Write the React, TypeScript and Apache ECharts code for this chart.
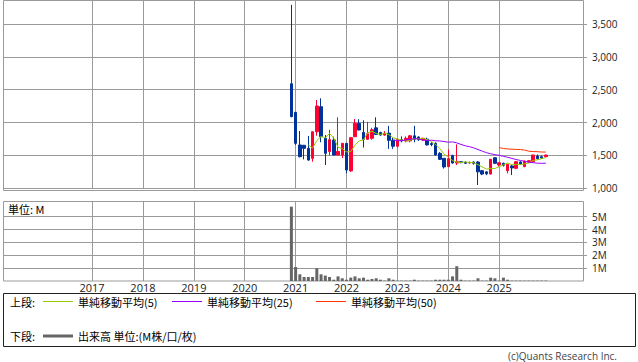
import React, { useEffect, useRef } from "react";
import * as echarts from "echarts";

// ---- axis categories (monthly) ----
const START_YEAR = 2015;
const START_MONTH = 4;
const MONTH_COUNT = 138;
const DATA_START = "2020-12";
const yearLabels = ["2017", "2018", "2019", "2020", "2021", "2022", "2023", "2024", "2025"];

// ---- monthly candles Dec 2020 .. Dec 2025 : [open, close, low, high] ----
const ohlc: number[][] = [
  [2590, 2090, 2080, 3790],
  [2156, 1684, 1660, 2160],
  [1659, 1481, 1470, 1872],
  [1654, 1608, 1440, 1660],
  [1608, 1430, 1420, 1795],
  [1456, 1861, 1405, 1861],
  [1861, 2252, 1800, 2343],
  [2241, 1785, 1700, 2369],
  [1760, 1532, 1354, 1811],
  [1560, 1740, 1500, 1890],
  [1735, 1506, 1500, 1785],
  [1506, 1560, 1500, 2080],
  [1506, 1684, 1460, 1690],
  [1684, 1278, 1228, 1684],
  [1265, 1770, 1250, 1775],
  [1785, 1989, 1780, 2054],
  [1989, 1887, 1880, 2050],
  [1850, 1745, 1620, 2035],
  [1745, 1830, 1740, 2010],
  [1760, 1890, 1740, 1920],
  [1920, 1820, 1810, 2080],
  [1850, 1810, 1800, 1860],
  [1810, 1840, 1800, 1870],
  [1840, 1730, 1600, 1950],
  [1730, 1640, 1600, 1770],
  [1640, 1740, 1620, 1760],
  [1740, 1720, 1700, 1790],
  [1720, 1760, 1700, 1790],
  [1721, 1798, 1700, 1810],
  [1798, 1746, 1700, 1951],
  [1780, 1740, 1720, 1790],
  [1735, 1760, 1720, 1770],
  [1747, 1660, 1650, 1770],
  [1680, 1665, 1640, 1700],
  [1684, 1507, 1500, 1700],
  [1532, 1440, 1430, 1550],
  [1456, 1325, 1300, 1460],
  [1330, 1450, 1320, 1590],
  [1500, 1385, 1375, 1510],
  [1385, 1405, 1354, 1669],
  [1405, 1390, 1380, 1415],
  [1395, 1380, 1370, 1410],
  [1385, 1395, 1375, 1405],
  [1400, 1380, 1360, 1410],
  [1400, 1250, 1050, 1415],
  [1268, 1217, 1200, 1280],
  [1250, 1220, 1200, 1260],
  [1217, 1441, 1210, 1445],
  [1465, 1380, 1370, 1470],
  [1354, 1389, 1330, 1395],
  [1380, 1350, 1330, 1390],
  [1268, 1365, 1228, 1370],
  [1340, 1310, 1202, 1354],
  [1304, 1405, 1290, 1410],
  [1400, 1370, 1360, 1410],
  [1330, 1415, 1320, 1420],
  [1400, 1420, 1395, 1430],
  [1405, 1506, 1400, 1510],
  [1491, 1450, 1440, 1515],
  [1480, 1460, 1455, 1500],
  [1481, 1506, 1475, 1510],
];

// ---- monthly volume (millions) Dec 2020 .. Dec 2025 ----
const volumeM: number[] = [
  5.78, 1.09, 0.52, 0.31, 0.31, 0.31, 0.99, 0.52, 0.42, 0.31, 0.1, 0.36, 0.21,
  0.1, 0.26, 0.36, 0.21, 0.26, 0.1, 0.16, 0.21, 0.1, 0.03, 0.21, 0.1,
  0.03, 0.03, 0.03, 0.03, 0.1, 0.03, 0.03, 0.03, 0.03, 0.1, 0.1, 0.1,
  0.1, 0.36, 1.15, 0.1, 0.03, 0.03, 0.03, 0.21, 0.03, 0.03, 0.26, 0.21,
  0.03, 0.26, 0.1, 0.03, 0.03, 0.03, 0.03, 0.03, 0.03, 0.03, 0.03, 0.03,
];

const priceTicks = [1000, 1500, 2000, 2500, 3000, 3500];
const volumeTicks = [1, 2, 3, 4, 5];
const maPeriods = [5, 25, 50];
const maNames = ["単純移動平均(5)", "単純移動平均(25)", "単純移動平均(50)"];
const maColors = ["#99cc00", "#9900ff", "#ff3300"];

const GRID = "#9a9a9a";

function buildMonths(): string[] {
  const out: string[] = [];
  for (let i = 0; i < MONTH_COUNT; i++) {
    const t = START_MONTH - 1 + i;
    const y = START_YEAR + Math.floor(t / 12);
    const m = (t % 12) + 1;
    out.push(`${y}-${m < 10 ? "0" + m : m}`);
  }
  return out;
}

function sma(values: number[], n: number): (number | null)[] {
  return values.map((_, i) => {
    if (i < n - 1) return null;
    let s = 0;
    for (let k = i - n + 1; k <= i; k++) s += values[k];
    return s / n;
  });
}

export default function App() {
  const ref = useRef<HTMLDivElement>(null);

  useEffect(() => {
    if (!ref.current) return;
    const chart = echarts.init(ref.current, undefined, { renderer: "svg" });

    const months = buildMonths();
    const first = months.indexOf(DATA_START);
    const dataMonths = ohlc.map((_, i) => months[first + i]);
    const closes = ohlc.map((d) => d[1]);
    const isYearStart = (_i: number, v: string) => {
      const s = String(v);
      return s.endsWith("-01") && yearLabels.indexOf(s.slice(0, 4)) >= 0;
    };

    const xBase = (gridIndex: number) => ({
      type: "category",
      gridIndex,
      data: months,
      boundaryGap: false,
      axisLine: { show: false },
      axisTick: { show: false },
      splitLine: { show: true, interval: isYearStart, lineStyle: { color: GRID, width: 1 } },
      axisLabel:
        gridIndex === 1
          ? {
              show: true,
              interval: isYearStart,
              formatter: (v: string) => v.slice(0, 4),
              fontSize: 11,
              lineHeight: 11,
              color: "#222",
              margin: 1,
              fontFamily: "'Open Sans', sans-serif",
            }
          : { show: false },
    });

    const maSeries = maPeriods.map((p, idx) => {
      const vals = sma(closes, p);
      const data: any[] = [];
      vals.forEach((v, i) => {
        if (v != null) data.push([dataMonths[i], Math.round(v * 10) / 10]);
      });
      return {
        name: maNames[idx],
        type: "line",
        xAxisIndex: 0,
        yAxisIndex: 0,
        data,
        symbol: "none",
        lineStyle: { color: maColors[idx], width: 1 },
        itemStyle: { color: maColors[idx] },
        z: 3,
      };
    });

    const legendY1 = 302;
    const legendY2 = 336;
    const cjk = "11px 'Noto Sans CJK JP', sans-serif";
    const legendLineX = [43, 172, 316];
    const legendTextX = [78, 207, 351];
    const txt = (text: string, x: number, y: number) => ({
      type: "text",
      x,
      y,
      style: { text, font: cjk, fill: "#000", verticalAlign: "middle", lineHeight: 11 },
    });

    const graphic: any[] = [
      { type: "rect", shape: { x: 3.5, y: 0.5, width: 580, height: 190 }, style: { fill: "none", stroke: GRID, lineWidth: 1 }, silent: true },
      { type: "rect", shape: { x: 3.5, y: 201.5, width: 580, height: 79.5 }, style: { fill: "none", stroke: GRID, lineWidth: 1 }, silent: true },
      txt("単位: M", 8, 209),
      { type: "rect", shape: { x: 3.5, y: 293.5, width: 632, height: 53 }, style: { fill: "none", stroke: "#222", lineWidth: 1 }, silent: true },
      txt("上段:", 10, legendY1),
      txt("下段:", 10, legendY2),
      { type: "line", shape: { x1: 43, y1: legendY2, x2: 73, y2: legendY2 }, style: { stroke: "#666", lineWidth: 3 } },
      txt("出来高 単位:(M株/口/枚)", 78, legendY2),
      { type: "text", x: 617, y: 356, style: { text: "(c)Quants Research Inc.", font: "10px 'Open Sans', sans-serif", fill: "#444", align: "right", verticalAlign: "middle" } },
    ];
    maNames.forEach((n, i) => {
      graphic.push({ type: "line", shape: { x1: legendLineX[i], y1: legendY1 - 0.5, x2: legendLineX[i] + 30, y2: legendY1 - 0.5 }, style: { stroke: maColors[i], lineWidth: 1 } });
      graphic.push(txt(n, legendTextX[i], legendY1));
    });

    const option: any = {
      animation: false,
      backgroundColor: "#ffffff",
      textStyle: { fontFamily: "'Open Sans', 'Noto Sans CJK JP', sans-serif" },
      grid: [
        { left: 3, right: 54, top: -8.92, height: 197.22, outerBoundsMode: "none", containLabel: false },
        { left: 3, right: 54, top: 201, height: 80, outerBoundsMode: "none", containLabel: false },
      ],
      xAxis: [xBase(0), xBase(1)],
      yAxis: [
        {
          type: "value",
          gridIndex: 0,
          position: "right",
          min: 1000,
          max: 4000,
          interval: 500,
          axisLine: { show: false },
          axisTick: { show: true, length: 3, lineStyle: { color: GRID } },
          axisLabel: {
            showMaxLabel: false,
            formatter: (v: number) => (priceTicks.indexOf(v) >= 0 ? v.toLocaleString("en-US") : ""),
            fontSize: 10,
            color: "#222",
            margin: 8,
          },
          splitLine: { lineStyle: { color: GRID } },
        },
        {
          type: "value",
          gridIndex: 1,
          position: "right",
          min: 0,
          max: 6.22,
          interval: 1,
          axisLine: { show: false },
          axisTick: { show: true, length: 3, lineStyle: { color: GRID }, customValues: volumeTicks },
          axisLabel: {
            customValues: volumeTicks,
            formatter: (v: number) => (volumeTicks.indexOf(v) >= 0 ? v + "M" : ""),
            fontSize: 10,
            color: "#222",
            margin: 8,
          },
          splitLine: {
            lineStyle: {
              color: [GRID, GRID, GRID, GRID, GRID, GRID, "rgba(0,0,0,0)", GRID],
            },
          },
        },
      ],
      series: [
        {
          name: "株価",
          type: "candlestick",
          xAxisIndex: 0,
          yAxisIndex: 0,
          data: ohlc.map((d, i) => [dataMonths[i], d[0], d[1], d[2], d[3]]),
          encode: { x: 0, y: [1, 2, 3, 4] },
          barWidth: 3,
          clip: false,
          itemStyle: {
            color: "#ff0033",
            color0: "#003399",
            borderColor: "#ff0033",
            borderColor0: "#003399",
            borderWidth: 1,
          },
          z: 2,
        },
        ...maSeries,
        {
          name: "出来高",
          type: "bar",
          xAxisIndex: 1,
          yAxisIndex: 1,
          data: volumeM.map((v, i) => [dataMonths[i], v]),
          barWidth: 3,
          itemStyle: { color: "#666666" },
        },
      ],
      graphic,
    };

    chart.setOption(option);
    return () => chart.dispose();
  }, []);

  return (
    <div
      ref={ref}
      style={{ position: "fixed", left: 0, top: 0, width: 638, height: 362, background: "#fff" }}
    />
  );
}
